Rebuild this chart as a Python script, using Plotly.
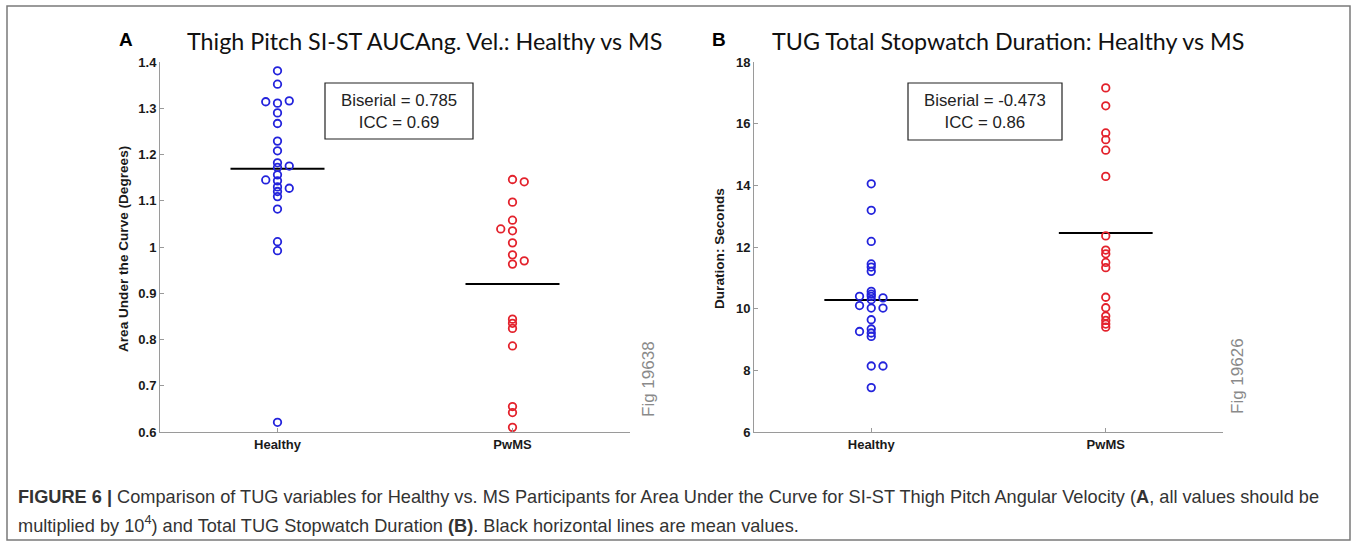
import plotly.graph_objects as go

W, H = 1357, 546

categories = ["Healthy", "PwMS"]

# Panel A: Area under the curve (x10^4)
a_healthy = [1.381, 1.352, 1.314, 1.311, 1.316, 1.290, 1.267, 1.229, 1.208, 1.182,
             1.175, 1.172, 1.156, 1.145, 1.143, 1.130, 1.127, 1.120, 1.109, 1.082,
             1.0115, 0.992, 0.621]
a_healthy_jit = [0, 0, -0.05, 0, 0.05, 0, 0, 0, 0, 0,
                 0.05, 0, 0, -0.05, 0, 0, 0.05, 0, 0, 0,
                 0, 0, 0]
a_pwms = [1.146, 1.141, 1.097, 1.058, 1.039, 1.035, 1.009, 0.983, 0.970, 0.963,
          0.844, 0.835, 0.824, 0.786, 0.655, 0.642, 0.610]
a_pwms_jit = [0, 0.05, 0, 0, -0.05, 0, 0, 0, 0.05, 0,
              0, 0, 0, 0, 0, 0, 0]
a_means = [1.169, 0.920]

# Panel B: TUG stopwatch duration (s)
b_healthy = [14.05, 13.19, 12.18, 11.45, 11.35, 11.21, 10.56, 10.47, 10.40, 10.40,
             10.35, 10.29, 10.10, 10.02, 10.02, 9.64, 9.34, 9.26, 9.21, 9.10,
             8.14, 8.14, 7.44]
b_healthy_jit = [0, 0, 0, 0, 0, 0, 0, 0, -0.05, 0,
                 0.05, 0, -0.05, 0, 0.05, 0, 0, -0.05, 0, 0,
                 0, 0.05, 0]
b_pwms = [17.16, 16.58, 15.70, 15.48, 15.14, 14.29, 12.36, 11.90, 11.78, 11.50,
          11.33, 10.37, 10.03, 9.76, 9.62, 9.50, 9.40]
b_pwms_jit = [0] * len(b_pwms)
b_means = [10.28, 12.45]

a_ticks = [0.6, 0.7, 0.8, 0.9, 1.0, 1.1, 1.2, 1.3, 1.4]
a_ticktext = ["0.6", "0.7", "0.8", "0.9", "1", "1.1", "1.2", "1.3", "1.4"]
b_ticks = [6, 8, 10, 12, 14, 16, 18]

BLUE = "#2323dc"
RED = "#e3222c"
AXC = "#9a9a9a"

fig = go.Figure()


def add_group(vals, jit, pos, color, xa, ya):
    fig.add_trace(go.Scatter(
        x=[pos + j for j in jit], y=vals, mode="markers",
        marker=dict(symbol="circle-open", size=7.5, color=color, line=dict(width=1.8, color=color)),
        xaxis=xa, yaxis=ya, showlegend=False, hoverinfo="y"))


def add_mean(m, pos, xa, ya):
    fig.add_trace(go.Scatter(
        x=[pos - 0.2, pos + 0.2], y=[m, m], mode="lines",
        line=dict(color="black", width=2), xaxis=xa, yaxis=ya,
        showlegend=False, hoverinfo="skip"))


add_mean(a_means[0], 1, "x", "y")
add_mean(a_means[1], 2, "x", "y")
add_group(a_healthy, a_healthy_jit, 1, BLUE, "x", "y")
add_group(a_pwms, a_pwms_jit, 2, RED, "x", "y")
add_mean(b_means[0], 1, "x2", "y2")
add_mean(b_means[1], 2, "x2", "y2")
add_group(b_healthy, b_healthy_jit, 1, BLUE, "x2", "y2")
add_group(b_pwms, b_pwms_jit, 2, RED, "x2", "y2")

tickfont = dict(family="Liberation Sans, Arial, sans-serif", size=13, color="#1a1a1a", weight="bold")
xcommon = dict(range=[0.5, 2.5], tickvals=[1, 2], ticktext=categories, showgrid=False,
               zeroline=False, showline=True, linecolor=AXC, linewidth=1, ticks="inside",
               ticklen=4, tickcolor=AXC, tickfont=tickfont, fixedrange=True, automargin=False)
ycommon = dict(showgrid=False, zeroline=False, showline=True, linecolor=AXC, linewidth=1,
               ticks="inside", ticklen=4, tickcolor=AXC, tickfont=tickfont, fixedrange=True,
               automargin=False)

ytop = 1 - 62 / H
ybot = 1 - 432 / H
fig.update_layout(
    template="none",
    width=W, height=H, margin=dict(l=0, r=0, t=0, b=0, pad=0, autoexpand=False),
    paper_bgcolor="white", plot_bgcolor="white",
    xaxis=dict(domain=[160 / W, 630 / W], anchor="y", **xcommon),
    yaxis=dict(domain=[ybot, ytop], anchor="x", range=[0.6, 1.4], tickvals=a_ticks,
               ticktext=a_ticktext, **ycommon),
    xaxis2=dict(domain=[754 / W, 1223 / W], anchor="y2", **xcommon),
    yaxis2=dict(domain=[ybot, ytop], anchor="x2", range=[6, 18], tickvals=b_ticks, **ycommon),
)


def px(x):
    return x / W


def py(y):
    return 1 - y / H


ann = []
txtfont = "Liberation Sans, Arial, sans-serif"
# Panel letters
ann.append(dict(x=px(126), y=py(40), text="<b>A</b>", font=dict(family=txtfont, size=19, color="black")))
ann.append(dict(x=px(719), y=py(40), text="<b>B</b>", font=dict(family=txtfont, size=19, color="black")))
# Titles
ann.append(dict(x=px(424), y=py(41), text="Thigh Pitch SI-ST AUCAng. Vel.: Healthy vs MS",
                font=dict(family="Lato, Open Sans, sans-serif", size=23.3, color="#111")))
ann.append(dict(x=px(1008), y=py(41), text="TUG Total Stopwatch Duration: Healthy vs MS",
                font=dict(family="Lato, Open Sans, sans-serif", size=23.3, color="#111")))
# Y axis titles
ann.append(dict(x=px(124), y=py(249), text="<b>Area Under the Curve (Degrees)</b>", textangle=-90,
                font=dict(family=txtfont, size=13.6, color="#1a1a1a")))
ann.append(dict(x=px(720), y=py(249), text="<b>Duration: Seconds</b>", textangle=-90,
                font=dict(family=txtfont, size=13.6, color="#1a1a1a")))
# Stat boxes
ann.append(dict(x=px(399), y=py(112), text="Biserial = 0.785<br>ICC = 0.69", align="center",
                font=dict(family=txtfont, size=16.8, color="#222")))
ann.append(dict(x=px(985), y=py(112), text="Biserial = -0.473<br>ICC = 0.86", align="center",
                font=dict(family=txtfont, size=16.8, color="#222")))
# Fig IDs
ann.append(dict(x=px(648), y=py(379), text="Fig 19638", textangle=-90,
                font=dict(family=txtfont, size=17, color="#8a8a8a")))
ann.append(dict(x=px(1237), y=py(376), text="Fig 19626", textangle=-90,
                font=dict(family=txtfont, size=17, color="#8a8a8a")))
# Caption
capfont = dict(family=txtfont, size=18.2, color="#333")
ann.append(dict(x=px(16), y=py(497), xanchor="left",
                text="<b>FIGURE 6 |</b> Comparison of TUG variables for Healthy vs. MS Participants for Area Under the Curve for SI-ST Thigh Pitch Angular Velocity (<b>A</b>, all values should be",
                font=capfont))
ann.append(dict(x=px(16), y=py(524), xanchor="left",
                text="multiplied by 10<sup>4</sup>) and Total TUG Stopwatch Duration <b>(B)</b>. Black horizontal lines are mean values.",
                font=capfont))

for a in ann:
    a.setdefault("xref", "paper")
    a.setdefault("yref", "paper")
    a.setdefault("showarrow", False)
    a.setdefault("xanchor", "center")
    a.setdefault("yanchor", "middle")
fig.update_layout(annotations=ann)

shapes = [
    dict(type="rect", xref="paper", yref="paper", x0=px(7), x1=px(1350), y0=py(540), y1=py(6),
         line=dict(color="#7a7a7a", width=1.5)),
    dict(type="rect", xref="paper", yref="paper", x0=px(325), x1=px(473), y0=py(139), y1=py(83),
         line=dict(color="#222", width=1.2)),
    dict(type="rect", xref="paper", yref="paper", x0=px(908), x1=px(1062), y0=py(140), y1=py(83),
         line=dict(color="#222", width=1.2)),
]
fig.update_layout(shapes=shapes)

fig.write_html("out.html", config={"displayModeBar": False},
               post_script="document.body.style.margin='0';document.body.style.overflow='hidden';")
